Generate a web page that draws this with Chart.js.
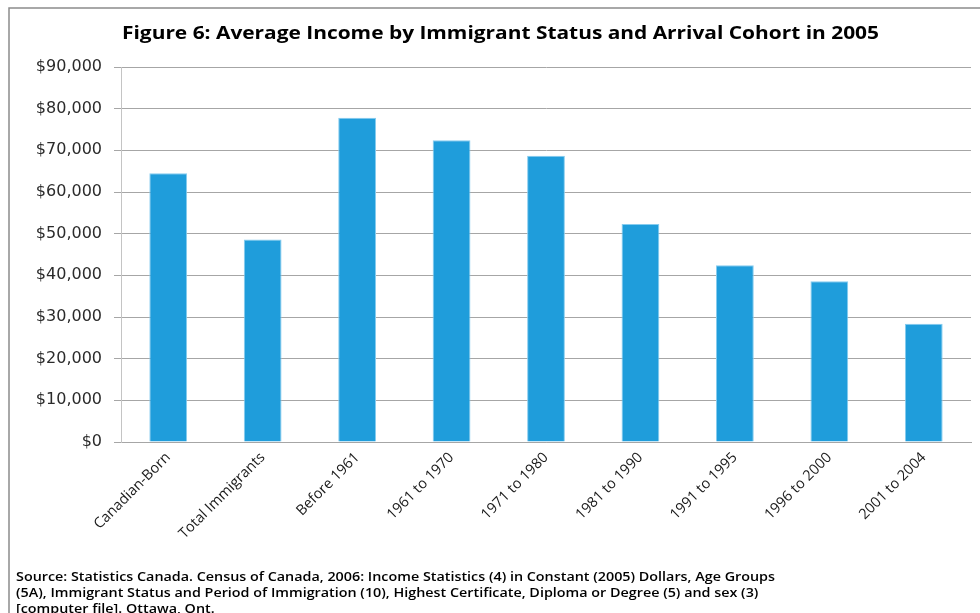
<!DOCTYPE html>
<html>
<head>
<meta charset="utf-8">
<title>Average Income by Immigrant Status and Arrival Cohort</title>
<script src="https://cdn.jsdelivr.net/npm/chart.js@4.4.1/dist/chart.umd.min.js"></script>
<style>
  html, body { margin: 0; padding: 0; background: #fff; }
  #wrap { position: relative; width: 980px; height: 613px; }
</style>
</head>
<body>
<div id="wrap"><canvas id="incomeChart" width="980" height="613"></canvas></div>
<script>
const cohorts = [
  'Canadian-Born', 'Total Immigrants', 'Before 1961', '1961 to 1970', '1971 to 1980',
  '1981 to 1990', '1991 to 1995', '1996 to 2000', '2001 to 2004'
]
const avgIncome = [64500, 48600, 77800, 72400, 68700, 52300, 42400, 38600, 28400]
const yTicks = [0, 10000, 20000, 30000, 40000, 50000, 60000, 70000, 80000, 90000]

const titleText = 'Figure 6: Average Income by Immigrant Status and Arrival Cohort in 2005'
const sourceLines = [
  'Source: Statistics Canada. Census of Canada, 2006: Income Statistics (4) in Constant (2005) Dollars, Age Groups',
  '(5A), Immigrant Status and Period of Immigration (10), Highest Certificate, Diploma or Degree (5) and sex (3)',
  '[computer file]. Ottawa, Ont.'
]

// draws text squeezed/stretched to a target width
function fitText(ctx, text, x, y, width) {
  const w = ctx.measureText(text).width
  ctx.save()
  ctx.translate(x, y)
  ctx.scale(width / w, 1)
  ctx.fillText(text, 0, 0)
  ctx.restore()
}

// frame, title and source note
const decorations = {
  id: 'decorations',
  afterDraw(chart) {
    const ctx = chart.ctx
    ctx.save()
    ctx.strokeStyle = '#8c8c8c'
    ctx.lineWidth = 1.5
    ctx.beginPath()
    ctx.moveTo(9, 613)
    ctx.lineTo(9, 8)
    ctx.lineTo(980, 8)
    ctx.stroke()

    ctx.fillStyle = '#000'
    ctx.textBaseline = 'middle'
    ctx.textAlign = 'left'
    ctx.font = 'bold 18px "Open Sans"'
    fitText(ctx, titleText, 122, 34, 757)

    ctx.font = '600 13px "Open Sans"'
    const k = 759 / ctx.measureText(sourceLines[0]).width
    sourceLines.forEach((line, i) => {
      const w = ctx.measureText(line).width
      fitText(ctx, line, 16, 577 + i * 16, w * k)
    })
    ctx.restore()
  }
}

const ctx = document.getElementById('incomeChart')
new Chart(ctx, {
  type: 'bar',
  data: {
    labels: cohorts,
    datasets: [{
      data: avgIncome,
      backgroundColor: '#1f9ddb',
      borderColor: '#86ccef',
      borderWidth: 1,
      barPercentage: 0.4,
      categoryPercentage: 1
    }]
  },
  options: {
    responsive: false,
    animation: false,
    layout: { padding: { top: 67, right: 9, left: 0, bottom: 0 } },
    plugins: {
      legend: { display: false },
      tooltip: { enabled: false }
    },
    scales: {
      x: {
        grid: { display: false, drawTicks: false },
        border: { color: '#a6a6a6', width: 1 },
        ticks: {
          color: '#1a1a1a',
          font: { family: '"Open Sans"', size: 14.5 },
          minRotation: 45,
          maxRotation: 45,
          padding: 7
        },
        afterFit(scale) { scale.height = 171 }
      },
      y: {
        min: 0,
        max: 90000,
        afterBuildTicks(scale) { scale.ticks = yTicks.map(v => ({ value: v })) },
        grid: { color: '#a6a6a6', tickLength: 7, tickColor: '#a6a6a6' },
        border: { color: '#c4c4c4', width: 1 },
        ticks: {
          color: '#2b2b2b',
          font: { family: '"DejaVu Sans"', size: 16 },
          padding: 12,
          callback: v => '$' + v.toLocaleString('en-US')
        },
        afterFit(scale) { scale.width = 121 }
      }
    }
  },
  plugins: [decorations]
})
</script>
</body>
</html>
